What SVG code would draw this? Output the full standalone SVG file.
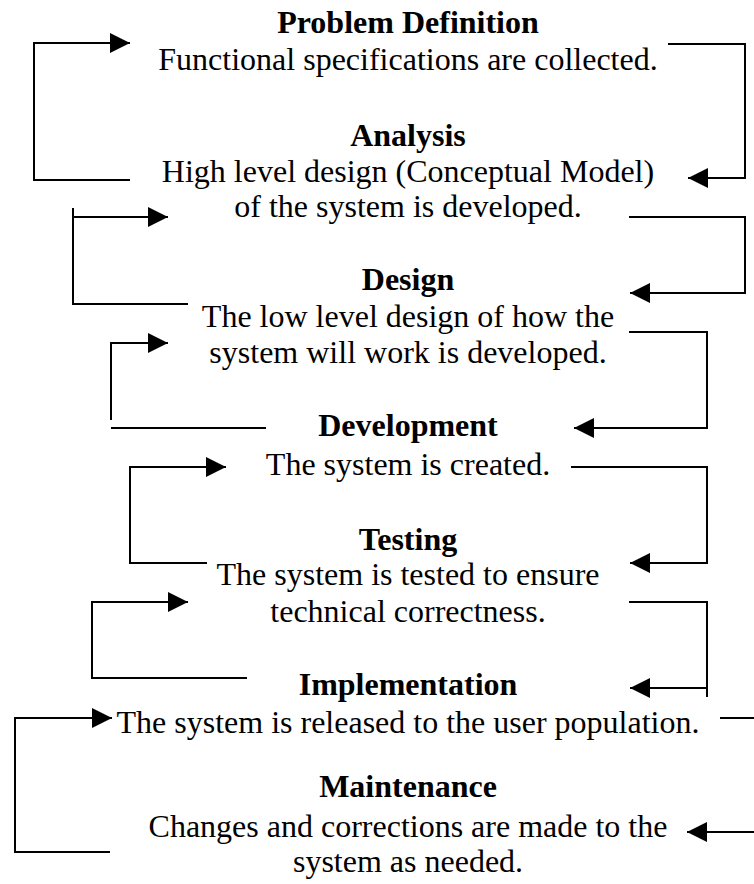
<svg xmlns="http://www.w3.org/2000/svg" width="754" height="884" viewBox="0 0 754 884">
<style>
text{font-family:"Liberation Serif","Times New Roman",serif;font-size:32px;fill:#000;text-anchor:middle}
.t{font-weight:bold}
.c path{fill:none;stroke:#000;stroke-width:2}
</style>
<defs>
<marker id="ah" markerUnits="userSpaceOnUse" markerWidth="20" markerHeight="20" viewBox="0 0 20 20" refX="20" refY="10" orient="auto">
<path d="M0,0 L20,10 L0,20 z" fill="#000"/>
</marker>
</defs>
<rect width="754" height="884" fill="#fff"/>
<g id="n1"><text class="t" x="408" y="33">Problem Definition</text><text x="408" y="70">Functional specifications are collected.</text></g>
<g id="n2"><text class="t" x="408" y="146">Analysis</text><text x="408" y="182">High level design (Conceptual Model)</text><text x="408" y="217">of the system is developed.</text></g>
<g id="n3"><text class="t" x="408" y="290">Design</text><text x="408" y="327">The low level design of how the</text><text x="408" y="363">system will work is developed.</text></g>
<g id="n4"><text class="t" x="408" y="436">Development</text><text x="408" y="475">The system is created.</text></g>
<g id="n5"><text class="t" x="408" y="550">Testing</text><text x="408" y="585">The system is tested to ensure</text><text x="408" y="622">technical correctness.</text></g>
<g id="n6"><text class="t" x="408" y="695">Implementation</text><text x="408" y="733">The system is released to the user population.</text></g>
<g id="n7"><text class="t" x="408" y="797">Maintenance</text><text x="408" y="837">Changes and corrections are made to the</text><text x="408" y="872">system as needed.</text></g>
<g id="connectors" class="c">
<path d="M130,180 H34 V43 H130" marker-end="url(#ah)"/>
<path d="M668,44 H745 V178 H688" marker-end="url(#ah)"/>
<path d="M188,304 H73 V217 H168" marker-end="url(#ah)"/>
<path d="M73,208 V218"/>
<path d="M629,217 H745 V293 H630" marker-end="url(#ah)"/>
<path d="M111,420 V343 H168" marker-end="url(#ah)"/>
<path d="M111,428 H266"/>
<path d="M629,332 H707 V428 H574" marker-end="url(#ah)"/>
<path d="M207,563 H130 V467 H226" marker-end="url(#ah)"/>
<path d="M571,467 H707 V563 H630" marker-end="url(#ah)"/>
<path d="M247,678 H92 V602 H188" marker-end="url(#ah)"/>
<path d="M629,602 H707 V697"/>
<path d="M707,688 H630" marker-end="url(#ah)"/>
<path d="M110,852 H15 V718 H112" marker-end="url(#ah)"/>
<path d="M720,718 H754"/>
<path d="M754,832 H687" marker-end="url(#ah)"/>
</g>
</svg>
